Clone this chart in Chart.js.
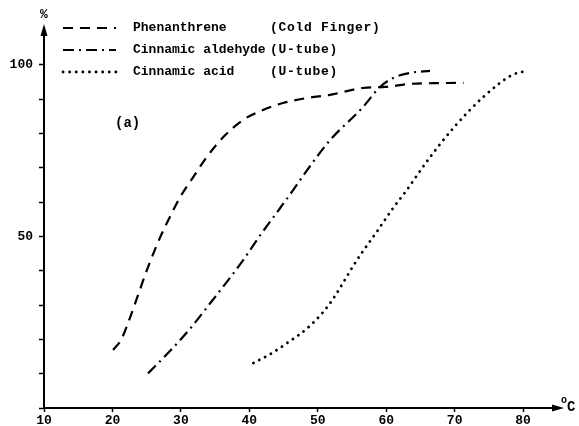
<!DOCTYPE html>
<html lang="en">
<head>
  <meta charset="UTF-8">
  <title>Sublimation curves (a)</title>
  <script src="https://cdn.jsdelivr.net/npm/chart.js"></script>
  <style>
    body { margin: 0; background: #fff; }
    #wrap { width: 579px; height: 426px; position: relative; }
  </style>
</head>
<body>
  <div id="wrap"><canvas id="chart"></canvas></div>

  <script>
    // values (temperature in °C, amount in %)
    const phenX = [20.1, 21.3, 22.6, 24.0, 25.2, 27.0, 28.4, 29.9, 31.8, 33.8, 36.2, 39.1, 42.0, 44.9, 48.5, 51.8, 56.6, 59.9, 63.5, 67.0, 71.3];
    const phenY = [16.9, 20.0, 26.5, 34.4, 41.1, 49.9, 55.7, 61.5, 67.3, 73.2, 79.0, 84.0, 86.9, 88.9, 90.4, 91.3, 93.3, 93.6, 94.5, 94.7, 94.8];

    const aldX = [25.2, 28.4, 31.3, 34.3, 37.5, 39.1, 41.6, 44.1, 46.5, 48.5, 51.8, 56.5, 59.1, 61.0, 63.5, 66.4];
    const aldY = [10.1, 16.6, 23.0, 30.6, 38.8, 43.1, 50.4, 57.2, 63.8, 69.5, 78.1, 87.5, 93.6, 96.2, 97.7, 98.3];

    const acidX = [40.6, 43.3, 45.7, 48.5, 50.8, 52.3, 53.7, 55.2, 56.6, 58.7, 60.9, 62.8, 66.1, 69.8, 74.2, 78.4, 79.9];
    const acidY = [13.1, 16.0, 19.2, 23.3, 28.0, 32.0, 36.5, 41.5, 45.7, 51.6, 58.0, 63.0, 72.3, 81.6, 90.7, 97.1, 98.0];

    const seriesNames = ['Phenanthrene', 'Cinnamic aldehyde', 'Cinnamic acid'];
    const apparatus = ['(Cold Finger)', '(U-tube)', '(U-tube)'];
    const xTicks = [10, 20, 30, 40, 50, 60, 70, 80];
    const yTicks = [0, 10, 20, 30, 40, 50, 60, 70, 80, 90, 100];
    const yLabelled = [50, 100];

    const FONT = 'Liberation Mono, DejaVu Sans Mono, monospace';
    const pts = (xs, ys) => xs.map((x, i) => ({ x: x, y: ys[i] }));

    // legend, arrows, units and panel tag
    const extras = {
      id: 'extras',
      afterDraw(chart) {
        const ctx = chart.ctx;
        const a = chart.chartArea;
        ctx.save();
        ctx.fillStyle = '#000';
        ctx.strokeStyle = '#000';

        // arrow heads
        ctx.beginPath();
        ctx.moveTo(a.left, a.top - 6);
        ctx.lineTo(a.left - 3.5, a.top + 6);
        ctx.lineTo(a.left + 3.5, a.top + 6);
        ctx.closePath();
        ctx.fill();
        ctx.beginPath();
        ctx.moveTo(a.right + 6, a.bottom);
        ctx.lineTo(a.right - 6, a.bottom - 3.5);
        ctx.lineTo(a.right - 6, a.bottom + 3.5);
        ctx.closePath();
        ctx.fill();

        ctx.font = 'bold 13px ' + FONT;
        ctx.textBaseline = 'middle';
        ctx.textAlign = 'left';
        ctx.fillText('%', 40, 15);
        ctx.font = 'bold 10px ' + FONT;
        ctx.fillText('o', 561, 400);
        ctx.font = 'bold 14px ' + FONT;
        ctx.fillText('C', 567, 407);
        ctx.fillText('(a)', 115, 123);

        // legend rows
        const rowY = [28, 50, 72];
        chart.data.datasets.forEach((ds, i) => {
          ctx.save();
          ctx.lineWidth = ds.borderWidth;
          ctx.lineCap = ds.borderCapStyle || 'butt';
          ctx.setLineDash(ds.borderDash);
          ctx.beginPath();
          ctx.moveTo(63, rowY[i]);
          ctx.lineTo(116, rowY[i]);
          ctx.stroke();
          ctx.restore();
          ctx.font = 'bold 13px ' + FONT;
          ctx.fillText(seriesNames[i], 133, rowY[i]);
          ctx.save();
          ctx.letterSpacing = '0.7px';
          ctx.fillText(apparatus[i], 270, rowY[i]);
          ctx.restore();
        });
        ctx.restore();
      }
    };

    new Chart(document.getElementById('chart').getContext('2d'), {
      type: 'line',
      data: {
        datasets: [
          { label: seriesNames[0], data: pts(phenX, phenY), borderColor: '#000', borderWidth: 2.2, borderDash: [10, 7] },
          { label: seriesNames[1], data: pts(aldX, aldY), borderColor: '#000', borderWidth: 2.2, borderDash: [11, 5, 2, 5] },
          { label: seriesNames[2], data: pts(acidX, acidY), borderColor: '#000', borderWidth: 2.8, borderDash: [0.1, 6.5], borderCapStyle: 'round' }
        ]
      },
      options: {
        responsive: true,
        maintainAspectRatio: false,
        animation: false,
        layout: { padding: { top: 30, right: 21, left: 0, bottom: 0 } },
        elements: { point: { radius: 0 }, line: { tension: 0.35, cubicInterpolationMode: 'monotone' } },
        plugins: { legend: { display: false }, tooltip: { enabled: false } },
        scales: {
          x: {
            type: 'linear',
            min: 10, max: 85.1,
            afterFit: s => { s.height = 18; },
            afterBuildTicks: s => { s.ticks = xTicks.map(v => ({ value: v })); },
            border: { color: '#000', width: 2 },
            grid: { drawOnChartArea: false, tickLength: 4, color: '#000', tickWidth: 1.5 },
            ticks: { color: '#000', padding: 1, maxRotation: 0, font: { family: FONT, size: 13, weight: 'bold' } }
          },
          y: {
            type: 'linear',
            min: 0, max: 110.2,
            afterFit: s => { s.width = 44; },
            afterBuildTicks: s => { s.ticks = yTicks.map(v => ({ value: v })); },
            border: { color: '#000', width: 2 },
            grid: { drawOnChartArea: false, tickLength: 5, color: '#000', tickWidth: 1.5 },
            ticks: {
              color: '#000', padding: 6,
              font: { family: FONT, size: 13, weight: 'bold' },
              callback: v => yLabelled.includes(v) ? String(v) : ''
            }
          }
        }
      },
      plugins: [extras]
    });
  </script>
</body>
</html>
